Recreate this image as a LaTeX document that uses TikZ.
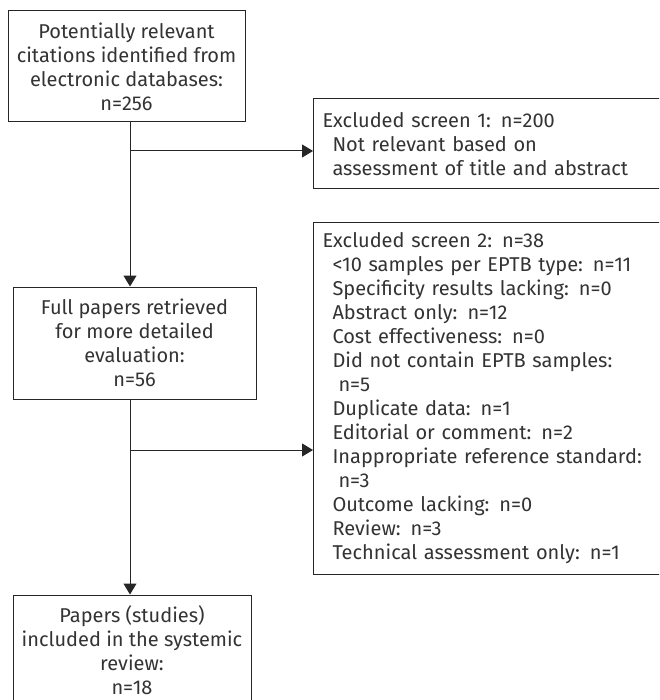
\documentclass[tikz,border=0pt]{standalone}
\usepackage{fontspec}
\setmainfont{Fira Sans}
\usetikzlibrary{arrows.meta}
\begin{document}
\begin{tikzpicture}[x=1pt,y=-1pt,
  box/.style={draw=black!85, line width=1pt, text=black!80, font=\fontsize{20}{24}\selectfont, inner sep=0pt},
  cbox/.style={box, align=center},
  lbox/.style={box, align=left, anchor=west, minimum width=400pt, text width=382pt},
  conn/.style={draw=black!85, line width=1pt, -{Triangle[length=11pt,width=13pt]}}]
\useasboundingbox (0,0) rectangle (659,700);
\clip (0,0) rectangle (659,700);
\node[cbox, minimum width=237pt, minimum height=111pt] (b1) at (126.5,66.5)
  {Potentially relevant\\citations identified from\\electronic databases:\\n=256};
\node[cbox, minimum width=243pt, minimum height=112pt] (b2) at (134.5,343)
  {Full papers retrieved\\for more detailed\\evaluation:\\n=56};
\node[cbox, minimum width=238pt, minimum height=110pt] (b3) at (132,650)
  {Papers (studies)\\included in the systemic\\review:\\n=18};
\node[lbox, minimum height=90pt] (r1) at (313,144)
  {Excluded screen 1: n=200\\
   \hspace*{10pt}Not relevant based on\\
   \hspace*{10pt}assessment of title and abstract};
\node[lbox, minimum height=351pt] (r2) at (313,398.5)
  {Excluded screen 2: n=38\\
   \hspace*{10pt}<10 samples per EPTB type: n=11\\
   \hspace*{10pt}Specificity results lacking: n=0\\
   \hspace*{10pt}Abstract only: n=12\\
   \hspace*{10pt}Cost effectiveness: n=0\\
   \hspace*{10pt}Did not contain EPTB samples:\\
   \hspace*{16pt}n=5\\
   \hspace*{10pt}Duplicate data: n=1\\
   \hspace*{10pt}Editorial or comment: n=2\\
   \hspace*{10pt}Inappropriate reference standard:\\
   \hspace*{16pt}n=3\\
   \hspace*{10pt}Outcome lacking: n=0\\
   \hspace*{10pt}Review: n=3\\
   \hspace*{10pt}Technical assessment only: n=1};
\coordinate (tr) at (130,0);
\coordinate (j1) at (130,151);
\coordinate (j2) at (130,450);
\draw[conn] (b1.south -| tr) -- (b2.north -| tr);
\draw[conn] (b2.south -| tr) -- (b3.north -| tr);
\draw[conn] (j1) -- (j1 -| r1.west);
\draw[conn] (j2) -- (j2 -| r2.west);
\end{tikzpicture}
\end{document}
